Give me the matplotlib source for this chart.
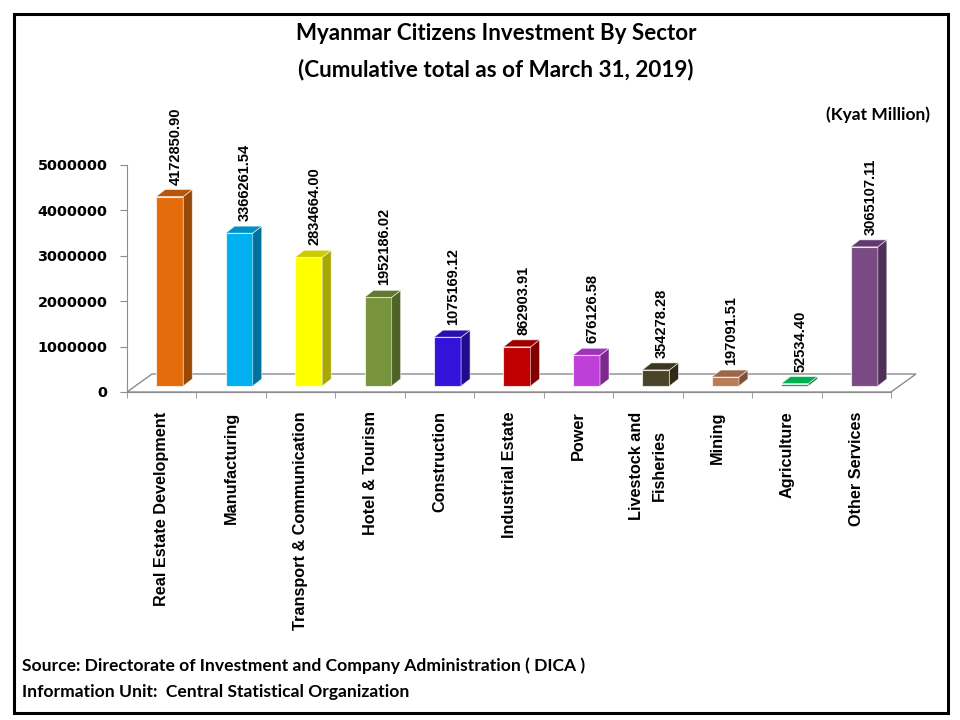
import matplotlib
matplotlib.use("Agg")
import matplotlib.pyplot as plt
import numpy as np
from matplotlib.patches import Polygon, Rectangle
from matplotlib.transforms import Affine2D, IdentityTransform

categories = ["Real Estate Development", "Manufacturing", "Transport & Communication",
              "Hotel & Tourism", "Construction", "Industrial Estate", "Power",
              "Livestock and\nFisheries", "Mining", "Agriculture", "Other Services"]
values = [4172850.90, 3366261.54, 2834664.00, 1952186.02, 1075169.12, 862903.91,
          676126.58, 354278.28, 197091.51, 52534.40, 3065107.11]
value_labels = ["4172850.90", "3366261.54", "2834664.00", "1952186.02", "1075169.12",
                "862903.91", "676126.58", "354278.28", "197091.51", "52534.40", "3065107.11"]
front_colors = ["#E46C0A", "#00B0F0", "#FFFF00", "#77933C", "#3312DA", "#C00000",
                "#BF40D8", "#4A4429", "#BA7B57", "#00A050", "#7A4A85"]
side_colors = ["#974806", "#00729C", "#A8A800", "#4F6228", "#1E0C8C", "#7F0000",
               "#7C2890", "#2E2A19", "#7C5039", "#006B35", "#4F2F58"]
top_colors = ["#B5560A", "#0090C4", "#CCCC00", "#60782F", "#2810B0", "#A00000",
              "#A033B8", "#3B3621", "#9C6746", "#00B050", "#63396F"]
yticks = [0, 1000000, 2000000, 3000000, 4000000, 5000000]

W, H = 960, 720
fig = plt.figure(figsize=(9.6, 7.2), dpi=100)
ax = fig.add_axes([127 / W, 1 - 392 / H, 764 / W, 227 / H])
n = len(categories)
ax.set_xlim(-0.5, n - 0.5)
ax.set_ylim(0, 5000000)
for s in ["top", "right"]:
    ax.spines[s].set_visible(False)
ax.spines["left"].set_color("#8C8C8C")
ax.spines["bottom"].set_color("#8C8C8C")
ax.spines["left"].set_zorder(0.5)
ax.spines["bottom"].set_zorder(0.5)
ax.patch.set_visible(False)

ax.set_yticks(yticks)
ax.set_yticklabels([str(t) for t in yticks], fontfamily="DejaVu Sans",
                   fontweight="bold", fontsize=10.4)
ax.tick_params(axis="y", direction="out", length=5, color="#8C8C8C", pad=9)
x = np.arange(n)
ax.set_xticks(x)
ax.set_xticklabels(categories, rotation=90, fontfamily="Liberation Sans",
                   fontweight="bold", fontsize=11.7, va="top", ha="center",
                   multialignment="center")
for lbl in ax.get_xticklabels():
    if "\n" in lbl.get_text():
        lbl.set_linespacing(1.7)
ax.tick_params(axis="x", length=0, pad=14)
ax.set_xticks(np.arange(n + 1) - 0.5, minor=True)
ax.tick_params(axis="x", which="minor", length=4, color="#8C8C8C", direction="out")

# floor
depth = np.array([25, 18])
ident = IdentityTransform()
f0 = ax.transData.transform([(-0.5, 0), (n - 0.5, 0)])
floor = Polygon([f0[0], f0[1], f0[1] + depth, f0[0] + depth], closed=True,
                facecolor="white", edgecolor="#8C8C8C", lw=1.0,
                transform=ident, clip_on=False, zorder=1)
ax.add_artist(floor)

# bars
w = 0.39
front_off = np.array([8, 6])
bar_depth = np.array([9, 7])
front_tr = ax.transData + Affine2D().translate(*front_off)
ax.bar(x, values, width=w, color=front_colors, edgecolor=(1, 1, 1, 0.7),
       linewidth=0.8, transform=front_tr, zorder=3, clip_on=False)
for i, v in enumerate(values):
    p = ax.transData.transform([(i - w / 2, 0), (i + w / 2, 0),
                                (i + w / 2, v), (i - w / 2, v)]) + front_off
    side = Polygon([p[1], p[2], p[2] + bar_depth, p[1] + bar_depth], closed=True,
                   facecolor=side_colors[i], edgecolor=(1, 1, 1, 0.6), lw=0.6,
                   transform=ident, clip_on=False, zorder=3)
    top = Polygon([p[3], p[2], p[2] + bar_depth, p[3] + bar_depth], closed=True,
                  facecolor=top_colors[i], edgecolor=(1, 1, 1, 0.6), lw=0.6,
                  transform=ident, clip_on=False, zorder=3)
    ax.add_artist(side)
    ax.add_artist(top)
    lab_tr = ax.transData + Affine2D().translate(14, 18)
    ax.text(i, v, value_labels[i], rotation=90, ha="center", va="bottom",
            fontfamily="Liberation Sans", fontweight="bold", fontsize=10.5,
            transform=lab_tr, clip_on=False, zorder=4)

# titles and notes
fig.text(496 / W, 1 - 33 / H, "Myanmar Citizens Investment By Sector",
         ha="center", va="center", fontfamily="Lato", fontweight="bold", fontsize=16.1)
fig.text(496 / W, 1 - 70 / H, "(Cumulative total as of March 31, 2019)",
         ha="center", va="center", fontfamily="Lato", fontweight="bold", fontsize=16.2)
fig.text(930 / W, 1 - 115 / H, "(Kyat Million)", ha="right", va="center",
         fontfamily="Lato", fontweight="bold", fontsize=12.5)
fig.text(22 / W, 1 - 666 / H,
         "Source: Directorate of Investment and Company Administration ( DICA )",
         ha="left", va="center", fontfamily="Lato", fontweight="bold", fontsize=12.6)
fig.text(22 / W, 1 - 692 / H, "Information Unit:  Central Statistical Organization",
         ha="left", va="center", fontfamily="Lato", fontweight="bold", fontsize=12.6)

# border
fig.add_artist(Rectangle((13.5 / W, 1 - 713 / H), (948 - 13.5) / W, (713 - 13.5) / H,
                         fill=False, edgecolor="black", lw=2.2,
                         transform=fig.transFigure))

fig.savefig("out.png", dpi=100, facecolor="white")
